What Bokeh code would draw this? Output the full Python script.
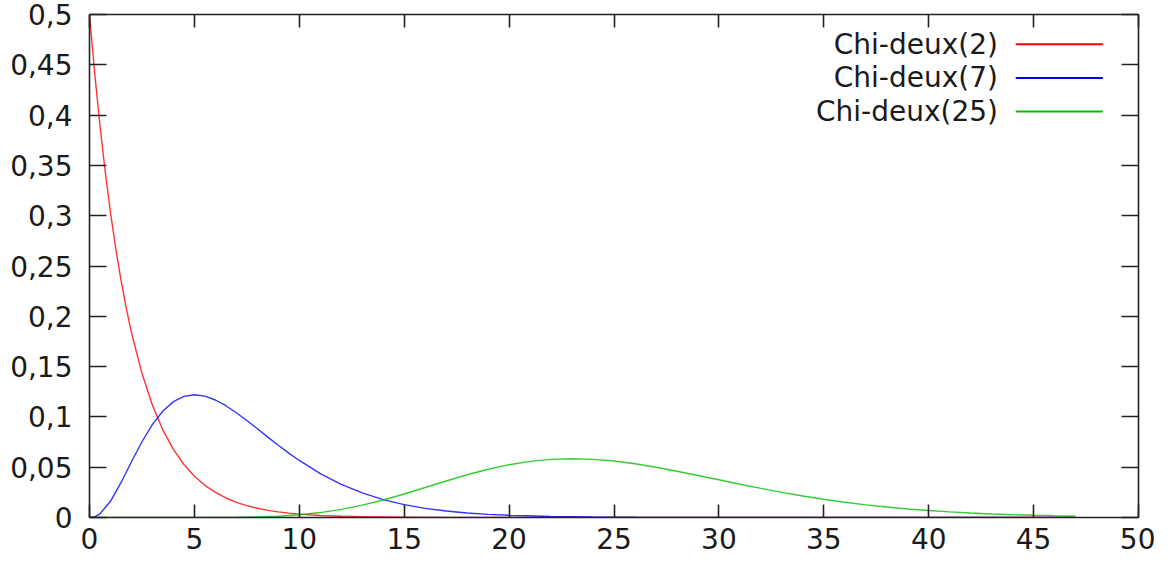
from bokeh.plotting import figure
from bokeh.models import Range1d, FixedTicker, LinearAxis, CustomJSTickFormatter, Label
from bokeh.embed import file_html
from bokeh.resources import INLINE

# ---- data ----
x_ticks = [0, 5, 10, 15, 20, 25, 30, 35, 40, 45, 50]
y_ticks = [0, 0.05, 0.1, 0.15, 0.2, 0.25, 0.3, 0.35, 0.4, 0.45, 0.5]
y_tick_labels = ["0", "0,05", "0,1", "0,15", "0,2", "0,25", "0,3", "0,35", "0,4", "0,45", "0,5"]

series_names = ["Chi-deux(2)", "Chi-deux(7)", "Chi-deux(25)"]
series_colors = ["#ff0000", "#0000ff", "#00c000"]

x_chi2 = [0, 0.25, 0.5, 0.75, 1, 1.25, 1.5, 1.75, 2, 2.5, 3, 3.5, 4, 4.5, 5, 5.5, 6, 6.5, 7, 7.5,
          8, 8.5, 9, 9.5, 10, 11, 12, 13, 14, 15, 17, 20, 25, 30, 35, 40, 47]
y_chi2 = [0.5, 0.4412, 0.3894, 0.3436, 0.3033, 0.2676, 0.2362, 0.2084, 0.1839, 0.1433, 0.1116,
          0.0869, 0.0677, 0.0527, 0.0410, 0.0320, 0.0249, 0.0194, 0.0151, 0.0118, 0.0092, 0.0071,
          0.0056, 0.0043, 0.0034, 0.0020, 0.0012, 0.0008, 0.0005, 0.0003, 0.0001, 0, 0, 0, 0, 0, 0]

x_chi7 = [0, 0.25, 0.5, 1, 1.5, 2, 2.5, 3, 3.5, 4, 4.5, 5, 5.5, 6, 6.5, 7, 7.5, 8, 8.5, 9, 9.5,
          10, 11, 12, 13, 14, 15, 16, 17, 18, 19, 20, 22, 24, 26, 28, 30, 35, 40, 47]
y_chi7 = [0, 0.0007, 0.0037, 0.0161, 0.0346, 0.0554, 0.0753, 0.0925, 0.1059, 0.1152, 0.1204,
          0.1220, 0.1206, 0.1168, 0.1111, 0.1041, 0.0964, 0.0882, 0.0799, 0.0718, 0.0640, 0.0567,
          0.0436, 0.0329, 0.0244, 0.0178, 0.0128, 0.0091, 0.0065, 0.0045, 0.0031, 0.0022, 0.0010,
          0.0005, 0.0002, 0.0001, 0, 0, 0, 0]

x_chi25 = [0, 2, 4, 6, 7, 8, 9, 10, 11, 12, 13, 14, 15, 16, 17, 18, 19, 20, 21, 22, 23, 24, 25,
           26, 27, 28, 29, 30, 31, 32, 33, 34, 35, 36, 37, 38, 39, 40, 41, 42, 43, 44, 45, 46, 47]
y_chi25 = [0, 0, 0, 0.0001, 0.0002, 0.0006, 0.0013, 0.0027, 0.0049, 0.0081, 0.0123, 0.0174,
           0.0234, 0.0298, 0.0363, 0.0425, 0.0480, 0.0525, 0.0558, 0.0578, 0.0584, 0.0578, 0.0561,
           0.0534, 0.0500, 0.0460, 0.0418, 0.0375, 0.0331, 0.0289, 0.0250, 0.0214, 0.0181, 0.0152,
           0.0126, 0.0104, 0.0085, 0.0069, 0.0056, 0.0045, 0.0035, 0.0028, 0.0022, 0.0017, 0.0013]

# ---- layout / style ----
FONT = "DejaVu Sans"
FONT_SIZE = "28px"
TEXT_COLOR = "#1a1a1a"
AXIS_COLOR = "#222222"

p = figure(width=1155, height=560, output_backend="svg", toolbar_location=None,
           x_range=Range1d(0, 50), y_range=Range1d(0, 0.5),
           min_border_left=89, min_border_right=17, min_border_top=14, min_border_bottom=43,
           x_axis_location=None, y_axis_location=None)
p.grid.visible = False
p.outline_line_color = None
p.background_fill_color = "white"
p.border_fill_color = "white"


def style_axis(ax, tick_len, labels=True):
    ax.axis_line_color = AXIS_COLOR
    ax.axis_line_width = 1.6
    ax.major_tick_line_color = AXIS_COLOR
    ax.major_tick_line_width = 1.6
    ax.major_tick_in = tick_len
    ax.major_tick_out = 0
    ax.minor_tick_line_color = None
    if labels:
        ax.major_label_text_font = FONT
        ax.major_label_text_font_size = FONT_SIZE
        ax.major_label_text_color = TEXT_COLOR
    else:
        ax.formatter = CustomJSTickFormatter(code="return ''")
        ax.major_label_text_font_size = "0px"
        ax.major_label_standoff = 0


xb = LinearAxis(ticker=FixedTicker(ticks=x_ticks))
style_axis(xb, 13)
xb.major_label_standoff = 10
p.add_layout(xb, "below")

yl = LinearAxis(ticker=FixedTicker(ticks=y_ticks))
style_axis(yl, 17)
yl.major_label_standoff = 17
yl.major_label_overrides = {t: lab for t, lab in zip(y_ticks, y_tick_labels)}
p.add_layout(yl, "left")

xt = LinearAxis(ticker=FixedTicker(ticks=x_ticks))
style_axis(xt, 13, labels=False)
p.add_layout(xt, "above")

yr = LinearAxis(ticker=FixedTicker(ticks=y_ticks))
style_axis(yr, 17, labels=False)
p.add_layout(yr, "right")

# ---- curves ----
for xs, ys, col in zip([x_chi2, x_chi7, x_chi25], [y_chi2, y_chi7, y_chi25], series_colors):
    p.line(xs, ys, line_color=col, line_width=1.4, line_alpha=0.8)

# ---- gnuplot-style key (text left, sample line right) ----
KEY_TEXT_X = 43.3
KEY_LINE_X = (44.15, 48.3)
KEY_Y = [0.4705, 0.437, 0.4035]
for name, col, ky in zip(series_names, series_colors, KEY_Y):
    p.add_layout(Label(x=KEY_TEXT_X, y=ky, text=name, text_align="right", text_baseline="middle",
                       text_font=FONT, text_font_size=FONT_SIZE, text_color=TEXT_COLOR))
    p.line(list(KEY_LINE_X), [ky, ky], line_color=col, line_width=2)

open("out.html", "w").write(file_html(p, INLINE))
